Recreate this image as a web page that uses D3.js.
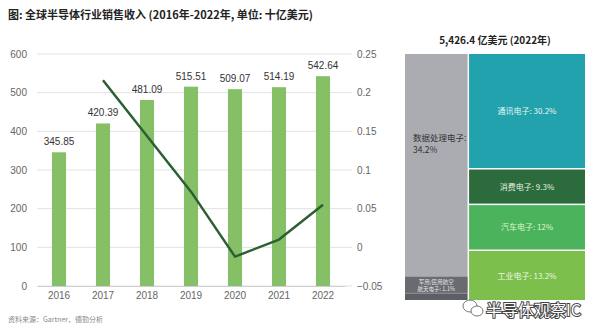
<!DOCTYPE html>
<html>
<head>
<meta charset="utf-8">
<script src="https://cdn.jsdelivr.net/npm/d3@7"></script>
<style>
  html, body { margin: 0; padding: 0; background: #fff; }
  svg { display: block; font-family: "Noto Sans CJK SC", "Noto Sans", sans-serif; }
</style>
</head>
<body>
<svg id="chart" width="600" height="328"></svg>
<script>
// Annual global semiconductor revenue (billion USD) and year-over-year growth
const years = ["2016", "2017", "2018", "2019", "2020", "2021", "2022"];
const revenue = [345.85, 420.39, 481.09, 515.51, 509.07, 514.19, 542.64];
const growthYears = ["2017", "2018", "2019", "2020", "2021", "2022"];
const growth = [0.216, 0.144, 0.072, -0.012, 0.010, 0.055];
const leftTicks = [0, 100, 200, 300, 400, 500, 600];
const rightTicks = [-0.05, 0, 0.05, 0.1, 0.15, 0.2, 0.25];

// 2022 revenue split by application (percent)
const segGroups = ["left", "left", "right", "right", "right", "right"];
const segNames = ["数据处理电子", "军用/民用航空航天电子", "通讯电子", "消费电子", "汽车电子", "工业电子"];
const segShares = [34.2, 1.1, 30.2, 9.3, 12, 13.2];
const segColors = ["#abacb1", "#5d5f66", "#22a2ac", "#2c6b3b", "#4bb35b", "#7dbf4d"];
const segTextColors = ["#333333", "#e8e8e8", "#e9f6f6", "#e4efe2", "#dff3d6", "#eef7e2"];

const svg = d3.select("#chart");

// ---- Title and source ----
svg.append("text").attr("x", 8).attr("y", 19)
  .attr("font-size", 11).attr("font-weight", "bold").attr("fill", "#222")
  .text("图: 全球半导体行业销售收入 (2016年-2022年, 单位: 十亿美元)");
svg.append("text").attr("x", 8).attr("y", 322)
  .attr("font-size", 7).attr("fill", "#888")
  .text("资料来源：Gartner，德勤分析");

// ---- Bar + line chart ----
const plotTop = 54, plotBottom = 286, plotLeft = 37, plotRight = 345;
const x = d3.scaleBand().domain(years).range([plotLeft, plotRight])
  .paddingInner(0.68).paddingOuter(0.34);
const yL = d3.scaleLinear().domain([0, 600]).range([plotBottom, plotTop]);
const yR = d3.scaleLinear().domain([-0.05, 0.25]).range([plotBottom, plotTop]);

// gridlines
svg.append("g").selectAll("line").data(leftTicks).join("line")
  .attr("x1", plotLeft).attr("x2", 352)
  .attr("y1", d => yL(d)).attr("y2", d => yL(d))
  .attr("stroke", "#e2e2e2").attr("stroke-width", 1);

// left axis
const axL = svg.append("g").attr("transform", `translate(${plotLeft},0)`)
  .call(d3.axisLeft(yL).tickValues(leftTicks).tickSize(0).tickPadding(10));
axL.select(".domain").remove();
axL.selectAll("text").attr("font-size", 10).attr("fill", "#666")
  .attr("font-family", "Liberation Sans, Arial, sans-serif");

// right axis
const axR = svg.append("g").attr("transform", `translate(352,0)`)
  .call(d3.axisRight(yR).tickValues(rightTicks).tickSize(0).tickPadding(5)
    .tickFormat(d => d3.format("")(+d.toFixed(2))));
axR.select(".domain").remove();
axR.selectAll("text").attr("font-size", 10).attr("fill", "#666")
  .attr("font-family", "Liberation Sans, Arial, sans-serif");

// bottom axis
const axB = svg.append("g").attr("transform", `translate(0,${plotBottom})`)
  .call(d3.axisBottom(x).tickSize(0).tickPadding(6));
axB.select(".domain").attr("stroke", "#d0d0d0");
axB.selectAll("text").attr("font-size", 10).attr("fill", "#666")
  .attr("font-family", "Liberation Sans, Arial, sans-serif");

// bars
svg.append("g").selectAll("rect").data(years).join("rect")
  .attr("x", d => x(d)).attr("width", x.bandwidth())
  .attr("y", (d, i) => yL(revenue[i]))
  .attr("height", (d, i) => plotBottom - yL(revenue[i]))
  .attr("fill", "#86c066");

// bar value labels
svg.append("g").selectAll("text").data(years).join("text")
  .attr("x", d => x(d) + x.bandwidth() / 2)
  .attr("y", (d, i) => yL(revenue[i]) - 7)
  .attr("text-anchor", "middle").attr("font-size", 10).attr("fill", "#333")
  .attr("font-family", "Liberation Sans, Arial, sans-serif")
  .text((d, i) => revenue[i].toFixed(2));

// growth line
const line = d3.line()
  .x((d, i) => x(growthYears[i]) + x.bandwidth() / 2)
  .y(d => yR(d));
svg.append("path").datum(growth).attr("d", line)
  .attr("fill", "none").attr("stroke", "#2d5f35").attr("stroke-width", 2.5)
  .attr("stroke-linejoin", "round");

// ---- Treemap of 2022 revenue by application ----
const pX0 = 405, pX1 = 585, pY0 = 54, pY1 = 300;
svg.append("text").attr("x", (pX0 + pX1) / 2).attr("y", 44)
  .attr("text-anchor", "middle").attr("font-size", 10).attr("font-weight", "bold")
  .attr("fill", "#222").text("5,426.4 亿美元 (2022年)");

const treeData = {
  name: "root",
  children: ["left", "right"].map(g => ({
    name: g,
    children: segNames.map((n, i) => ({ name: n, value: segShares[i], idx: i }))
      .filter(c => segGroups[c.idx] === g)
  }))
};
const root = d3.hierarchy(treeData).sum(d => d.value || 0);
d3.treemap().tile(d3.treemapSliceDice)
  .size([pX1 - pX0, pY1 - pY0]).paddingInner(1.5)(root);

const cells = svg.append("g").attr("transform", `translate(${pX0},${pY0})`)
  .selectAll("g").data(root.leaves()).join("g");
cells.append("rect")
  .attr("x", d => d.x0).attr("y", d => d.y0)
  .attr("width", d => d.x1 - d.x0).attr("height", d => d.y1 - d.y0)
  .attr("fill", d => segColors[d.data.idx]);

// cell labels
cells.each(function (d) {
  const g = d3.select(this);
  const i = d.data.idx;
  const cx = (d.x0 + d.x1) / 2, cy = (d.y0 + d.y1) / 2;
  if (segGroups[i] === "right") {
    g.append("text").attr("x", cx).attr("y", cy + 3)
      .attr("text-anchor", "middle").attr("font-size", 8)
      .attr("fill", segTextColors[i])
      .text(`${d.data.name}: ${segShares[i]}%`);
  } else if (i === 0) {
    const t = g.append("text").attr("x", d.x0 + 8).attr("y", cy - 32)
      .attr("font-size", 8.5).attr("fill", segTextColors[i]);
    t.append("tspan").attr("x", d.x0 + 8).text(`${d.data.name}:`);
    t.append("tspan").attr("x", d.x0 + 8).attr("dy", 12).text(`${segShares[i]}%`);
  } else {
    // thin strip: label sits on a dark tag just above it
    const tagH = 17;
    g.append("rect").attr("x", d.x0).attr("y", d.y0 - tagH)
      .attr("width", d.x1 - d.x0).attr("height", tagH)
      .attr("fill", segColors[i]).attr("opacity", 0.85);
    const t = g.append("text").attr("text-anchor", "middle")
      .attr("font-size", 5.5).attr("fill", segTextColors[i]);
    t.append("tspan").attr("x", cx).attr("y", d.y0 - tagH + 7).text("军用/民用航空");
    t.append("tspan").attr("x", cx).attr("dy", 7).text(`航天电子: ${segShares[i]}%`);
  }
});

// account mark in the lower right corner
const wm = svg.append("g");
wm.append("ellipse").attr("cx", 470).attr("cy", 306).attr("rx", 7).attr("ry", 6)
  .attr("fill", "#fff").attr("stroke", "#777").attr("stroke-width", 1);
wm.append("ellipse").attr("cx", 477).attr("cy", 311).attr("rx", 6).attr("ry", 5)
  .attr("fill", "#fff").attr("stroke", "#777").attr("stroke-width", 1);
wm.append("text").attr("x", 486).attr("y", 316)
  .attr("font-size", 16).attr("fill", "#fff")
  .attr("stroke", "#444").attr("stroke-width", 2).attr("paint-order", "stroke")
  .text("半导体观察IC");
</script>
</body>
</html>
